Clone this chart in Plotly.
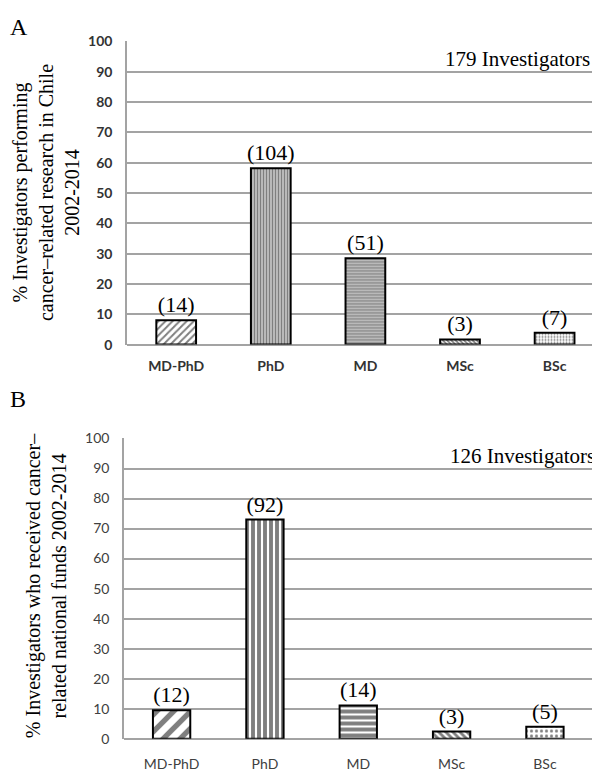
import plotly.graph_objects as go

# data
degrees = ['MD-PhD', 'PhD', 'MD', 'MSc', 'BSc']
pct_research = [8.0, 58.2, 28.5, 1.7, 3.9]
n_research = [14, 104, 51, 3, 7]
pct_funds = [9.5, 73.0, 11.1, 2.4, 4.0]
n_funds = [12, 92, 14, 3, 5]
y_ticks = [0, 10, 20, 30, 40, 50, 60, 70, 80, 90, 100]

# the page body has an 8px margin, so the figure is drawn 8px in
OFF = 8
W, H = 600 - OFF, 779 - OFF
GRID = '#a3a3a3'
SERIF = 'Liberation Serif, Times New Roman, serif'
SANS = 'Lato, Open Sans, sans-serif'


def px(x):
    return (x - OFF) / W


def py(y):
    return 1 - (y - OFF) / H


fig = go.Figure()

# panel A
fig.add_trace(go.Bar(
    x=list(range(len(degrees))), y=pct_research,
    text=['(%d)' % n for n in n_research], textposition='outside',
    constraintext='none', cliponaxis=False,
    textfont=dict(family=SERIF, size=22, color='black'),
    width=0.42,
    marker=dict(color='white', line=dict(color='black', width=2),
                pattern=dict(shape=['/', '|', '-', '\\', '.'],
                             size=[5, 3, 3, 3, 3],
                             solidity=[0.4, 0.7, 0.7, 0.6, 0.35],
                             fgcolor='black', bgcolor='white')),
    xaxis='x', yaxis='y', showlegend=False))

# panel B
fig.add_trace(go.Bar(
    x=list(range(len(degrees))), y=pct_funds,
    text=['(%d)' % n for n in n_funds], textposition='outside',
    constraintext='none', cliponaxis=False,
    textfont=dict(family=SERIF, size=22, color='black'),
    width=0.40,
    marker=dict(color='white', line=dict(color='black', width=2),
                pattern=dict(shape=['/', '|', '-', '\\', '.'],
                             size=[12, 6, 6, 5, 5],
                             solidity=[0.45, 0.65, 0.65, 0.55, 0.3],
                             fgcolor='black', bgcolor='white')),
    xaxis='x2', yaxis='y2', showlegend=False))


def xax(domain, rng, standoff, bold):
    return dict(domain=domain, range=rng, tickmode='array',
                tickvals=list(range(len(degrees))), ticktext=degrees,
                showgrid=False, showline=False, zeroline=False, ticks='',
                ticklabelstandoff=standoff,
                tickfont=dict(family=SANS, size=14,
                              color='#333333' if bold else '#404040',
                              weight='bold' if bold else 'normal'))


def yax(domain, anchor, bold):
    return dict(domain=domain, anchor=anchor, range=[0, 100],
                tickmode='array', tickvals=y_ticks,
                showgrid=True, gridcolor=GRID, gridwidth=1.5,
                zeroline=True, zerolinecolor=GRID, zerolinewidth=1.5,
                showline=True, linecolor=GRID, linewidth=1.5,
                ticks='', ticklabelstandoff=10,
                tickfont=dict(family=SANS, size=14,
                              color='#333333' if bold else '#404040',
                              weight='bold' if bold else 'normal'))


fig.update_layout(
    width=W, height=H, margin=dict(l=0, r=0, t=0, b=0),
    plot_bgcolor='white', paper_bgcolor='white',
    xaxis=xax([px(127), 1], [-0.52, 4.48], 11, True) | dict(anchor='y'),
    yaxis=yax([py(343), py(33)], 'x', True),
    xaxis2=xax([px(124), 1], [-0.51, 4.59], 15, False) | dict(anchor='y2'),
    yaxis2=yax([py(746), py(439)], 'x2', False),
)

annos = [
    dict(text='A', x=px(8), y=py(3), xanchor='left', yanchor='top',
         font=dict(family=SERIF, size=24)),
    dict(text='B', x=px(8), y=py(383), xanchor='left', yanchor='top',
         font=dict(family=SERIF, size=24)),
    dict(text='% Investigators performing<br>cancer–related research in Chile<br>2002-2014',
         x=px(46), y=py(188), textangle=-90, xanchor='center', yanchor='middle',
         font=dict(family=SERIF, size=20)),
    dict(text='% Investigators who received cancer–<br>related national funds 2002-2014',
         x=px(46), y=py(590), textangle=-90, xanchor='center', yanchor='middle',
         font=dict(family=SERIF, size=20)),
    dict(text='179 Investigators', x=px(592), y=py(51), xanchor='right', yanchor='middle',
         font=dict(family=SERIF, size=21)),
    dict(text='126 Investigators', x=px(597), y=py(457), xanchor='right', yanchor='middle',
         font=dict(family=SERIF, size=21)),
]
for a in annos:
    a.update(xref='paper', yref='paper', showarrow=False)
    a['font'].setdefault('color', 'black')
fig.update_layout(annotations=annos)

fig.write_html('out.html')
